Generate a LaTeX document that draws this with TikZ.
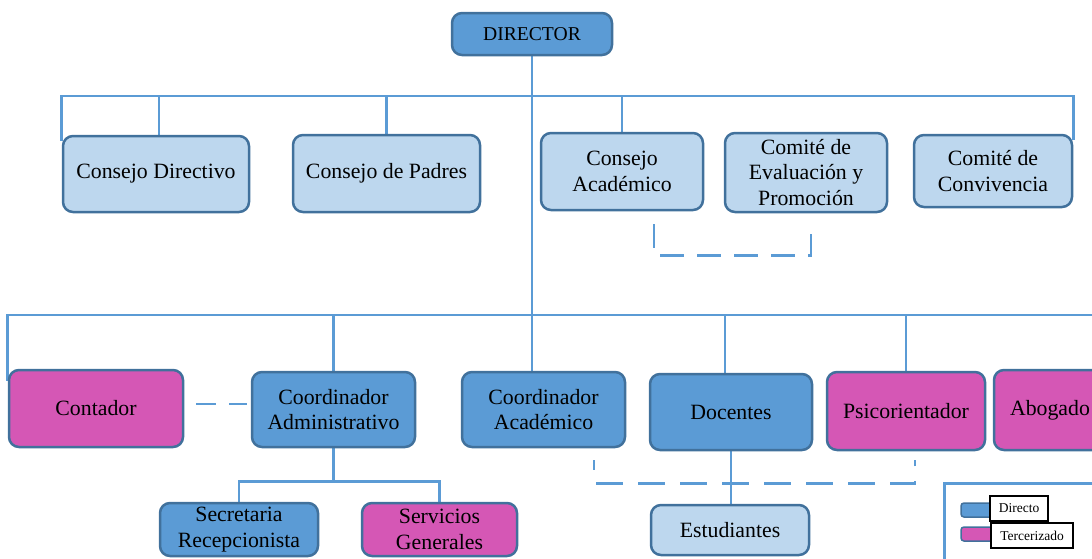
\documentclass[tikz,border=0pt]{standalone}
\usepackage{fontspec}
\setmainfont{Liberation Serif}
\definecolor{mb}{HTML}{5B9BD5}
\definecolor{bd}{HTML}{41719C}
\definecolor{lb}{HTML}{BDD7EE}
\definecolor{pk}{HTML}{D557B5}
\pgfdeclarelayer{bg}
\pgfsetlayers{bg,main}
\begin{document}
\begin{tikzpicture}[x=1pt,y=-1pt,
  box/.style={draw=bd, line width=2.5pt, rounded corners=10pt, inner sep=0pt, align=center, font=\fontsize{21.8}{25.5}\selectfont},
  darkbox/.style={box, fill=mb},
  lightbox/.style={box, fill=lb},
  pinkbox/.style={box, fill=pk},
  conn/.style={draw=mb, line width=2.6pt},
  dashconn/.style={conn, dash pattern=on 24pt off 13pt},
  legsw/.style={draw=bd, line width=1.5pt, rounded corners=3pt, minimum width=34, minimum height=14, inner sep=0pt},
  legtxt/.style={draw=black, fill=white, line width=2pt, minimum height=25, inner sep=0pt, font=\fontsize{13.5}{15}\selectfont}]
\useasboundingbox (0,0) rectangle (1092,558);
\clip (0,0) rectangle (1092,558);

% nodes
\node[darkbox, minimum width=160, minimum height=42, font=\fontsize{19.6}{22}\selectfont] (dir) at (532,34) {DIRECTOR};

\node[lightbox, minimum width=186, minimum height=76] (cd) at (156,174) {Consejo Directivo};
\node[lightbox, minimum width=187, minimum height=77] (cp) at (386.5,173.5) {Consejo de Padres};
\node[lightbox, minimum width=162, minimum height=77] (ca) at (622,171.5) {Consejo\\Académico};
\node[lightbox, minimum width=162, minimum height=79] (cep) at (806,172.5) {Comité de\\Evaluación y\\Promoción};
\node[lightbox, minimum width=158, minimum height=72] (cc) at (993,171) {Comité de\\Convivencia};

\node[pinkbox, minimum width=174, minimum height=77] (cont) at (96,408.5) {Contador};
\node[darkbox, minimum width=163, minimum height=75] (cadm) at (333.5,409.5) {Coordinador\\Administrativo};
\node[darkbox, minimum width=163, minimum height=75] (cacad) at (543.5,409.5) {Coordinador\\Académico};
\node[darkbox, minimum width=162, minimum height=76] (doc) at (731,412) {Docentes};
\node[pinkbox, minimum width=158, minimum height=78] (psi) at (906,411) {Psicorientador};
\node[pinkbox, minimum width=112, minimum height=80] (abo) at (1050,410) {Abogado};

\node[darkbox, minimum width=158, minimum height=53] (sec) at (239,529.5) {Secretaria\\Recepcionista};
\node[pinkbox, minimum width=155, minimum height=53] (serv) at (439.5,529.5) {Servicios\\Generales};
\node[lightbox, minimum width=158, minimum height=50] (est) at (730,530) {Estudiantes};

% legend
\node[draw=mb, line width=2.5pt, minimum width=220, minimum height=120, anchor=north west, inner sep=0pt] (legend) at (943,482) {};
\node[legsw, fill=mb] (lg1) at (978,510) {};
\node[legsw, fill=pk] (lg2) at (978,534) {};
\node[legtxt, minimum width=58] (lt1) at (1019,508.5) {Directo};
\node[legtxt, minimum width=82] (lt2) at (1032,535.5) {Tercerizado};

\begin{pgfonlayer}{bg}
  \coordinate (b1) at (532,96);
  \coordinate (b2) at (532,315);
  % main trunk
  \draw[conn] (dir.south) -- (dir.south |- cacad.north);
  % top bus
  \draw[conn] ([yshift=-6pt]cd.north west) |- (b1) -| ([yshift=-6pt]cc.north east);
  \draw[conn] ([xshift=3pt]cd.north) -- ([xshift=3pt]cd.north |- b1);
  \draw[conn] (cp.north) -- (cp.north |- b1);
  \draw[conn] (ca.north) -- (ca.north |- b1);
  % dashed between councils
  \draw[dashconn] ([xshift=32pt,yshift=-13pt]ca.south) |- ([xshift=5pt,yshift=-42pt]cep.south) -- ([xshift=5pt,yshift=-17pt]cep.south);
  % second bus
  \draw[conn] ([yshift=-12pt]cont.north west) |- (b2) -- (1100,315);
  \draw[conn] (cadm.north) -- (cadm.north |- b2);
  \draw[conn] ([xshift=-6pt]doc.north) -- ([xshift=-6pt]doc.north |- b2);
  \draw[conn] (psi.north) -- (psi.north |- b2);
  % dashed contador - coordinador administrativo
  \draw[conn, dash pattern=on 20pt off 13pt] ([xshift=12pt,yshift=4.5pt]cont.east) -- ([xshift=-4pt,yshift=5.5pt]cadm.west);
  % coordinador administrativo children
  \draw[conn] (cadm.south) -- ++(0,33) coordinate (j1);
  \draw[conn] (sec.north) |- (j1) -| (serv.north);
  % docentes - estudiantes
  \draw[conn] (est.north -| doc.south) -- (doc.south);
  % dashed lower
  \draw[conn, dash pattern=on 27pt off 15pt, dash phase=17pt] ([xshift=50.5pt,yshift=-12pt]cacad.south) |- ([xshift=9pt,yshift=-32pt]psi.south) -- ([xshift=9pt,yshift=-9pt]psi.south);
\end{pgfonlayer}
\end{tikzpicture}
\end{document}
